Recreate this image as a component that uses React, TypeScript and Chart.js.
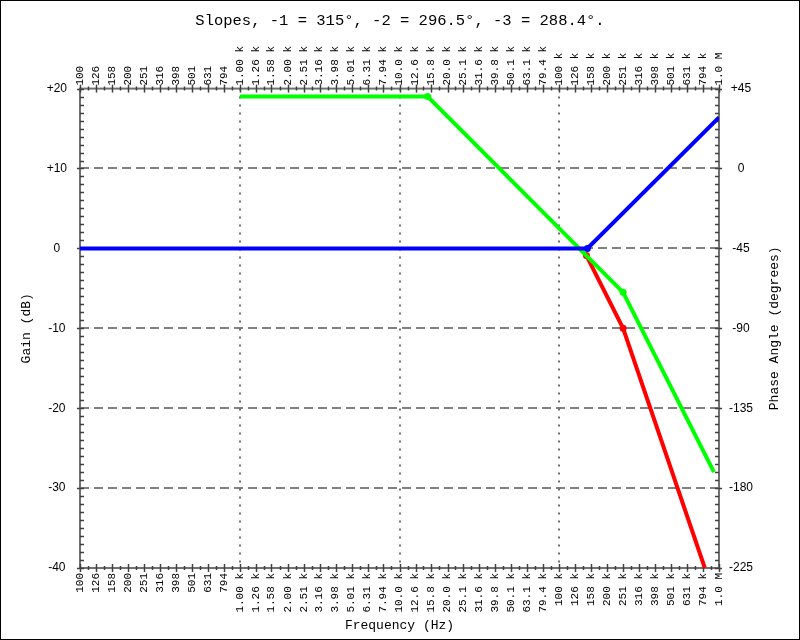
import React, { useEffect, useRef } from "react";
import { Chart, registerables } from "chart.js";

Chart.register(...registerables);

const titleText = "Slopes, -1 = 315°, -2 = 296.5°, -3 = 288.4°.";

const xTickValues = [
  100, 126, 158, 200, 251, 316, 398, 501, 631, 794,
  1000, 1260, 1580, 2000, 2510, 3160, 3980, 5010, 6310, 7940,
  10000, 12600, 15800, 20000, 25100, 31600, 39800, 50100, 63100, 79400,
  100000, 126000, 158000, 200000, 251000, 316000, 398000, 501000, 631000, 794000,
  1000000,
];
const xTickLabels = [
  "100", "126", "158", "200", "251", "316", "398", "501", "631", "794",
  "1.00 k", "1.26 k", "1.58 k", "2.00 k", "2.51 k", "3.16 k", "3.98 k", "5.01 k", "6.31 k", "7.94 k",
  "10.0 k", "12.6 k", "15.8 k", "20.0 k", "25.1 k", "31.6 k", "39.8 k", "50.1 k", "63.1 k", "79.4 k",
  "100 k", "126 k", "158 k", "200 k", "251 k", "316 k", "398 k", "501 k", "631 k", "794 k",
  "1.0 M",
];
const gainTicks = [20, 10, 0, -10, -20, -30, -40];
const gainTickLabels = ["+20", "+10", "0", "-10", "-20", "-30", "-40"];
const phaseTicks = [45, 0, -45, -90, -135, -180, -225];
const phaseTickLabels = ["+45", "0", "-45", "-90", "-135", "-180", "-225"];
const gridGainValues = [10, 0, -10, -20, -30];
const gridFreqValues = [1000, 10000, 100000];

const greenFreq = [1000, 15000, 251000, 930000];
const greenGain = [19, 19, -5.5, -28];
const redFreq = [148000, 251000, 815000];
const redGain = [-0.9, -10, -40];
const blueFreq = [100, 150000, 1000000];
const blueGain = [0, 0, 16.4];

const MONO = "'Liberation Mono', 'DejaVu Sans Mono', monospace";
const SANS = "'Liberation Sans', Arial, sans-serif";
const XFONT = 11;

const decorPlugin = {
  id: "decor",
  beforeDatasetsDraw(chart: any) {
    const { ctx, chartArea: a, scales } = chart;
    const xs = scales.x;
    const ys = scales.y;
    ctx.save();
    ctx.strokeStyle = "#808080";
    ctx.lineWidth = 2;
    ctx.setLineDash([9, 5]);
    for (const v of gridGainValues) {
      const py = Math.round(ys.getPixelForValue(v));
      ctx.beginPath();
      ctx.moveTo(a.left, py);
      ctx.lineTo(a.right, py);
      ctx.stroke();
    }
    ctx.strokeStyle = "#707070";
    ctx.setLineDash([2, 6]);
    for (const f of gridFreqValues) {
      const px = Math.round(xs.getPixelForValue(f));
      ctx.beginPath();
      ctx.moveTo(px, a.top);
      ctx.lineTo(px, a.bottom);
      ctx.stroke();
    }
    ctx.setLineDash([]);
    ctx.strokeStyle = "#707070";
    ctx.lineWidth = 2;
    ctx.strokeRect(a.left, a.top, a.right - a.left, a.bottom - a.top);
    ctx.lineWidth = 1.5;
    ctx.strokeStyle = "#404040";
    const pxs = xTickValues.map((v) => xs.getPixelForValue(v));
    pxs.forEach((px, i) => {
      const x = Math.round(px) + 0.5;
      for (const ay of [a.top, a.bottom]) {
        ctx.beginPath();
        ctx.moveTo(x, ay - 4);
        ctx.lineTo(x, ay + 4);
        ctx.stroke();
      }
      if (i < pxs.length - 1) {
        const mx = Math.round((px + pxs[i + 1]) / 2) + 0.5;
        ctx.beginPath();
        ctx.moveTo(mx, a.top - 2);
        ctx.lineTo(mx, a.top + 2);
        ctx.moveTo(mx, a.bottom - 2);
        ctx.lineTo(mx, a.bottom + 2);
        ctx.stroke();
      }
    });
    for (let v = Math.round(ys.min); v <= Math.round(ys.max); v++) {
      const py = Math.round(ys.getPixelForValue(v)) + 0.5;
      const major = v % 10 === 0;
      ctx.beginPath();
      ctx.moveTo(a.left - (major ? 3 : 0), py);
      ctx.lineTo(a.left + 4, py);
      ctx.moveTo(a.right - 4, py);
      ctx.lineTo(a.right + (major ? 3 : 0), py);
      ctx.stroke();
    }
    ctx.restore();
  },
  afterDraw(chart: any) {
    const { ctx, chartArea: a, width, height } = chart;
    ctx.save();
    ctx.fillStyle = "#000";
    ctx.font = `13px ${MONO}`;
    ctx.textAlign = "center";
    ctx.textBaseline = "middle";
    ctx.translate(775, (a.top + a.bottom) / 2);
    ctx.rotate(-Math.PI / 2);
    ctx.fillText("Phase Angle (degrees)", 0, 0);
    ctx.restore();
    ctx.save();
    ctx.strokeStyle = "#000";
    ctx.lineWidth = 1;
    ctx.strokeRect(0.5, 0.5, width - 1, height - 1);
    ctx.restore();
  },
};

function makeXScale(position: "top" | "bottom", size: number, padding: number, withTitle: boolean, labelOffset: number) {
  return {
    type: "logarithmic" as const,
    position,
    min: 100,
    max: 1000000,
    afterBuildTicks: (s: any) => {
      s.ticks = xTickValues.map((v) => ({ value: v }));
    },
    afterFit: (s: any) => {
      s.height = size;
    },
    grid: { display: false, drawTicks: false },
    border: { display: false },
    ticks: {
      autoSkip: false,
      minRotation: 90,
      maxRotation: 90,
      padding,
      labelOffset,
      color: "#000",
      font: { family: MONO, size: XFONT },
      callback: (_v: any, i: number) => xTickLabels[i],
    },
    title: {
      display: withTitle,
      text: "Frequency (Hz)",
      color: "#000",
      font: { family: MONO, size: 13 },
      padding: { top: 0, bottom: 7 },
    },
  };
}

export default function App() {
  const ref = useRef<HTMLCanvasElement | null>(null);
  useEffect(() => {
    if (!ref.current) return;
    const mk = (fs: number[], gs: number[]) => fs.map((f, i) => ({ x: f, y: gs[i] }));
    const chart = new Chart(ref.current, {
      type: "line",
      data: {
        datasets: [
          {
            label: "Blue",
            data: mk(blueFreq, blueGain),
            borderColor: "#0000ff",
            backgroundColor: "#0000ff",
            borderWidth: 4,
            pointRadius: [0, 3.5, 0],
            pointBorderWidth: 0,
            pointBackgroundColor: "#0000ff",
            xAxisID: "x",
            yAxisID: "y",
          },
          {
            label: "Green",
            data: mk(greenFreq, greenGain),
            borderColor: "#00ff00",
            backgroundColor: "#00ff00",
            borderWidth: 4,
            pointRadius: [0, 3.5, 3.5, 0],
            pointBorderWidth: 0,
            pointBackgroundColor: "#00ff00",
            xAxisID: "x",
            yAxisID: "y",
          },
          {
            label: "Red",
            data: mk(redFreq, redGain),
            borderColor: "#ff0000",
            backgroundColor: "#ff0000",
            borderWidth: 4,
            pointRadius: [3.5, 3.5, 0],
            pointBorderWidth: 0,
            pointBackgroundColor: "#ff0000",
            xAxisID: "x",
            yAxisID: "y",
          },
        ],
      },
      options: {
        responsive: false,
        animation: false,
        layout: { padding: 0 },
        plugins: {
          legend: { display: false },
          tooltip: { enabled: false },
          title: {
            display: true,
            text: titleText,
            color: "#000",
            font: { family: MONO, size: 15.5, weight: "normal" },
            padding: { top: 12, bottom: 10 },
          },
        },
        scales: {
          x: makeXScale("bottom", 72, 5, true, 0),
          x2: makeXScale("top", 48, 3, false, XFONT * 1.2),
          y: {
            type: "linear",
            position: "left",
            min: -40,
            max: 20,
            afterBuildTicks: (s: any) => {
              s.ticks = gainTicks.map((v) => ({ value: v }));
            },
            afterFit: (s: any) => {
              s.width = 80;
            },
            grid: { display: false, drawTicks: false },
            border: { display: false },
            ticks: {
              padding: 13,
              crossAlign: "center",
              color: "#000",
              font: { family: SANS, size: 12 },
              callback: (v: any) => gainTickLabels[gainTicks.indexOf(Number(v))],
            },
            title: {
              display: true,
              text: "Gain (dB)",
              color: "#000",
              font: { family: MONO, size: 13 },
              padding: { top: 19, bottom: 0 },
            },
          },
          y2: {
            type: "linear",
            position: "right",
            min: -225,
            max: 45,
            afterBuildTicks: (s: any) => {
              s.ticks = phaseTicks.map((v) => ({ value: v }));
            },
            afterFit: (s: any) => {
              s.width = 81;
            },
            grid: { display: false, drawTicks: false },
            border: { display: false },
            ticks: {
              padding: 10,
              crossAlign: "center",
              color: "#000",
              font: { family: SANS, size: 12 },
              callback: (v: any) => phaseTickLabels[phaseTicks.indexOf(Number(v))],
            },
          },
        },
      },
      plugins: [decorPlugin],
    } as any);
    return () => chart.destroy();
  }, []);
  return (
    <div style={{ position: "absolute", left: 0, top: 0, width: 800, height: 640, background: "#fff" }}>
      <canvas ref={ref} width={800} height={640} style={{ display: "block" }} />
    </div>
  );
}
